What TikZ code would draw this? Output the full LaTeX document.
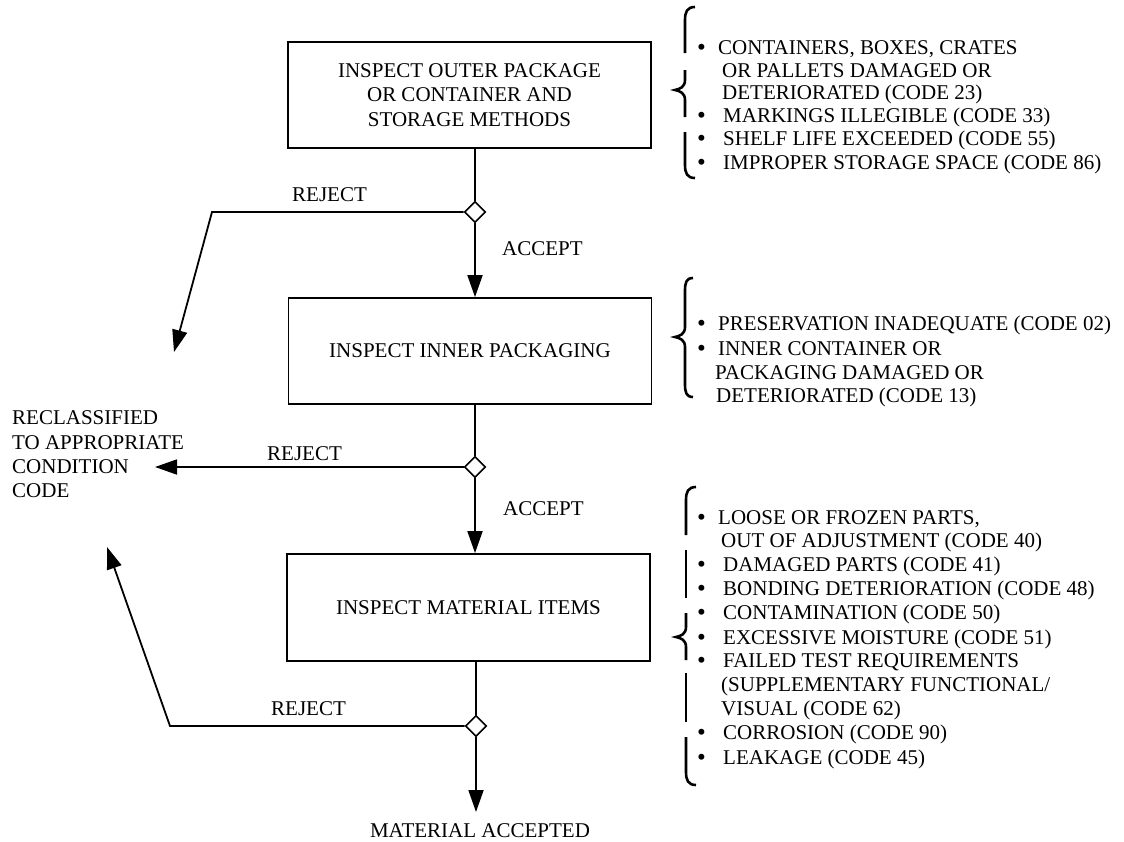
\documentclass[tikz,border=0pt]{standalone}
\usepackage{fontspec}
\setmainfont{Liberation Serif}
\usetikzlibrary{arrows.meta,shapes.geometric}
\begin{document}
\begin{tikzpicture}[x=1pt,y=-1pt,
  font=\fontsize{21}{24.5}\selectfont,
  box/.style={draw,line width=1.8pt,minimum width=363pt,minimum height=106pt,align=center,inner sep=0pt},
  dec/.style={draw,diamond,fill=white,line width=1.6pt,minimum width=21pt,minimum height=21pt,inner sep=0pt},
  conn/.style={line width=1.8pt},
  arr/.style={conn,-{Triangle[length=22pt,width=15pt]}},
  brace/.style={line width=2.6pt},
  lbl/.style={anchor=base west,inner sep=0pt},
  bul/.style={anchor=base west,inner sep=0pt,font=\fontsize{25}{25}\selectfont},
]
\useasboundingbox (0,0) rectangle (1124,841);

% boxes
\node[box] (b1) at (469.5,95) {INSPECT OUTER PACKAGE\\OR CONTAINER AND\\STORAGE METHODS};
\node[box] (b2) at (470,351) {INSPECT INNER PACKAGING};
\node[box,minimum height=107pt] (b3) at (468.5,607.5) {INSPECT MATERIAL ITEMS};

% decision points
\node[dec] (d1) at (475,212) {};
\node[dec] (d2) at (475,467) {};
\node[dec] (d3) at (476,726) {};

% main flow
\draw[conn] (d1.north |- b1.south) -- (d1.north);
\draw[arr] (d1.south) -- (d1.south |- b2.north);
\draw[conn] (d2.north |- b2.south) -- (d2.north);
\draw[arr] (d2.south) -- (d2.south |- b3.north);
\draw[conn] (d3.north |- b3.south) -- (d3.north);
\coordinate (acc) at (476,812);
\draw[arr] (d3.south) -- (acc);
\node[anchor=base,inner sep=0pt] (macc) at (480,837) {MATERIAL ACCEPTED};

% rejects
\coordinate (r1c) at (212,212);
\coordinate (r1t) at (174,352);
\draw[arr] (d1.west) -- (r1c) -- (r1t);
\coordinate (r2t) at (155,467);
\draw[arr] (d2.west) -- (r2t);
\coordinate (r3c) at (170,726);
\coordinate (r3t) at (107,547);
\draw[arr] (d3.west) -- (r3c) -- (r3t);

% labels
\node[lbl] (rej1) at (292,201) {REJECT};
\node[lbl] (rej2) at (267,460) {REJECT};
\node[lbl] (rej3) at (271,715) {REJECT};
\node[lbl] (acc1) at (502,255) {ACCEPT};
\node[lbl] (acc2) at (503,515) {ACCEPT};

\node[lbl] (rc1) at (12,424) {RECLASSIFIED};
\node[lbl] (rc2) at (12,449) {TO APPROPRIATE};
\node[lbl] (rc3) at (12,473) {CONDITION};
\node[lbl] (rc4) at (12,497) {CODE};

% block 1
\node[bul] (p1a) at (697,55) {•};
\node[lbl] (t1a) at (718,54) {CONTAINERS, BOXES, CRATES};
\node[lbl] (t1b) at (722,77) {OR PALLETS DAMAGED OR};
\node[lbl] (t1c) at (722,99) {DETERIORATED (CODE 23)};
\node[bul] (p1d) at (697,123) {•};
\node[lbl] (t1d) at (723,122) {MARKINGS ILLEGIBLE (CODE 33)};
\node[bul] (p1e) at (697,146) {•};
\node[lbl] (t1e) at (723,145) {SHELF LIFE EXCEEDED (CODE 55)};
\node[bul] (p1f) at (697,170) {•};
\node[lbl] (t1f) at (723,169) {IMPROPER STORAGE SPACE (CODE 86)};

% block 2
\node[bul] (p2a) at (697,331) {•};
\node[lbl] (t2a) at (718,330) {PRESERVATION INADEQUATE (CODE 02)};
\node[bul] (p2b) at (697,356) {•};
\node[lbl] (t2b) at (718,355) {INNER CONTAINER OR};
\node[lbl] (t2c) at (715,379) {PACKAGING DAMAGED OR};
\node[lbl] (t2d) at (716,402) {DETERIORATED (CODE 13)};

% block 3
\node[bul] (p3a) at (697,525) {•};
\node[lbl] (t3a) at (718,524) {LOOSE OR FROZEN PARTS,};
\node[lbl] (t3b) at (721,547) {OUT OF ADJUSTMENT (CODE 40)};
\node[bul] (p3c) at (697,572) {•};
\node[lbl] (t3c) at (723,571) {DAMAGED PARTS (CODE 41)};
\node[bul] (p3d) at (697,596) {•};
\node[lbl] (t3d) at (723,595) {BONDING DETERIORATION (CODE 48)};
\node[bul] (p3e) at (697,620) {•};
\node[lbl] (t3e) at (723,619) {CONTAMINATION (CODE 50)};
\node[bul] (p3f) at (697,645) {•};
\node[lbl] (t3f) at (723,644) {EXCESSIVE MOISTURE (CODE 51)};
\node[bul] (p3g) at (697,668) {•};
\node[lbl] (t3g) at (723,667) {FAILED TEST REQUIREMENTS};
\node[lbl] (t3h) at (721,691) {(SUPPLEMENTARY FUNCTIONAL/};
\node[lbl] (t3i) at (721,715) {VISUAL (CODE 62)};
\node[bul] (p3j) at (697,740) {•};
\node[lbl] (t3j) at (723,739) {CORROSION (CODE 90)};
\node[bul] (p3k) at (697,765) {•};
\node[lbl] (t3k) at (723,764) {LEAKAGE (CODE 45)};

% brace 1 (in pieces)
\draw[brace] (695,7) .. controls (687,7) and (685,12) .. (685,20) -- (685,53);
\draw[brace] (685,70) -- (685,80) .. controls (685,87) and (680,89) .. (675,90) .. controls (680,91) and (685,93) .. (685,100) -- (685,117);
\draw[brace] (685,132) -- (685,165) .. controls (685,173) and (687,178) .. (695,178);

% brace 2
\draw[brace] (693,278) .. controls (686,278) and (685,283) .. (685,291) -- (685,327) .. controls (685,334) and (680,336) .. (675,337) .. controls (680,338) and (685,340) .. (685,347) -- (685,384) .. controls (685,392) and (686,397) .. (693,397);

% brace 3 (in pieces)
\draw[brace] (696,487) .. controls (688,487) and (686,492) .. (686,500) -- (686,535);
\draw[brace] (686,550) -- (686,598);
\draw[brace] (686,613) -- (686,627) .. controls (686,634) and (681,636) .. (676,637) .. controls (681,638) and (686,640) .. (686,647) -- (686,660);
\draw[brace] (686,673) -- (686,722);
\draw[brace] (686,737) -- (686,772) .. controls (686,780) and (688,785) .. (696,785);
\end{tikzpicture}
\end{document}
